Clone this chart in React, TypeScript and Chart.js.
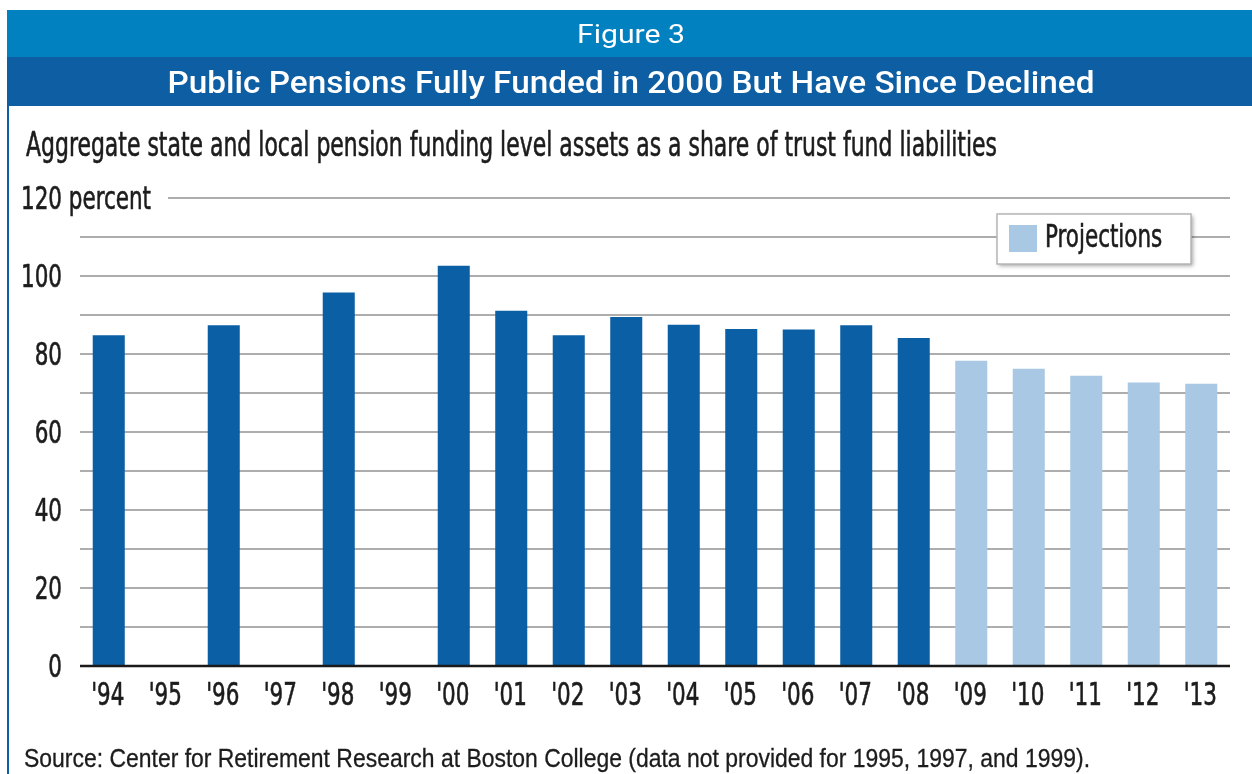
import React, { useEffect, useRef } from "react";
import { Chart, registerables } from "chart.js";

Chart.register(...registerables);

// ---------- data ----------
const categories = ["'94", "'95", "'96", "'97", "'98", "'99", "'00", "'01", "'02", "'03", "'04", "'05", "'06", "'07", "'08", "'09", "'10", "'11", "'12", "'13"];
const actualValues: (number | null)[] = [84.8, null, 87.4, null, 95.8, null, 102.6, 91.1, 84.8, 89.5, 87.5, 86.4, 86.3, 87.4, 84.1, null, null, null, null, null];
const projectionValues: (number | null)[] = [null, null, null, null, null, null, null, null, null, null, null, null, null, null, null, 78.3, 76.2, 74.4, 72.7, 72.4];
const yTickValues = [0, 20, 40, 60, 80, 100, 120];
const yTickLabels = ["0", "20", "40", "60", "80", "100", "120 percent"];

const figureLabel = "Figure 3";
const titleText = "Public Pensions Fully Funded in 2000 But Have Since Declined";
const subtitleText = "Aggregate state and local pension funding level assets as a share of trust fund liabilities";
const sourceText = "Source: Center for Retirement Research at Boston College (data not provided for 1995, 1997, and 1999).";
const actualLabel = "Actual";
const legendLabel = "Projections";

// ---------- styles ----------
const COND = '"Liberation Sans Narrow", "DejaVu Sans Condensed", "Arial Narrow", sans-serif';
const SANS = '"Liberation Sans", Arial, sans-serif';
const COND_FONT = `32px ${COND}`;
const DARK_BAR = "#0b5fa5";
const LIGHT_BAR = "#a8c8e3";
const TOP_BAR = "#0281c0";
const TITLE_BAR = "#0d5ea2";
const GRID = "#adadad";
const TEXT = "#1c1c1c";

function fitText(ctx: CanvasRenderingContext2D, text: string, x: number, y: number, font: string, color: string, width: number, align: "left" | "center", heavy = 0) {
  ctx.save();
  ctx.font = font;
  ctx.fillStyle = color;
  ctx.strokeStyle = color;
  ctx.textBaseline = "alphabetic";
  ctx.textAlign = "left";
  const w = ctx.measureText(text).width;
  const s = width / w;
  const left = align === "center" ? x - width / 2 : x;
  ctx.translate(left, y);
  ctx.scale(s, 1);
  ctx.fillText(text, 0, 0);
  if (heavy > 0) {
    ctx.lineWidth = heavy;
    ctx.strokeText(text, 0, 0);
  }
  ctx.restore();
}

// horizontal squeeze so the fallback condensed font matches the narrow original
function condFactor(ctx: CanvasRenderingContext2D) {
  ctx.save();
  ctx.font = COND_FONT;
  const w = ctx.measureText("120 percent").width;
  ctx.restore();
  return 130 / w;
}

function condText(ctx: CanvasRenderingContext2D, text: string, x: number, y: number, align: "left" | "right" | "center", f: number) {
  ctx.save();
  ctx.font = COND_FONT;
  ctx.fillStyle = TEXT;
  ctx.strokeStyle = TEXT;
  ctx.lineWidth = 0.6;
  ctx.textBaseline = "alphabetic";
  ctx.textAlign = "left";
  const w = ctx.measureText(text).width * f;
  const left = align === "left" ? x : align === "right" ? x - w : x - w / 2;
  ctx.translate(left, y);
  ctx.scale(f, 1);
  ctx.fillText(text, 0, 0);
  ctx.strokeText(text, 0, 0);
  ctx.restore();
  return w;
}

const decorPlugin = {
  id: "decor",
  beforeDraw(chart: any) {
    const ctx: CanvasRenderingContext2D = chart.ctx;
    const W = chart.width;
    const H = chart.height;
    ctx.save();
    ctx.fillStyle = "#ffffff";
    ctx.fillRect(0, 0, W, H);
    ctx.fillStyle = TOP_BAR;
    ctx.fillRect(7, 10, W - 7, 47);
    ctx.fillStyle = TITLE_BAR;
    ctx.fillRect(7, 57, W - 7, 49);
    ctx.fillRect(7, 106, 2, H - 106);
    ctx.restore();
    fitText(ctx, figureLabel, 631, 43, `400 25px Roboto, ${SANS}`, "#ffffff", 108, "center");
    fitText(ctx, titleText, 631, 93, `500 32px Roboto, ${SANS}`, "#ffffff", 927, "center");
    fitText(ctx, subtitleText, 26, 156, `33px ${COND}`, TEXT, 971, "left", 0.6);
    fitText(ctx, sourceText, 24, 767, `26px ${SANS}`, TEXT, 1066, "left", 0.3);
  },
  beforeDatasetsDraw(chart: any) {
    const ctx: CanvasRenderingContext2D = chart.ctx;
    const ys = chart.scales.y;
    const area = chart.chartArea;
    const f = condFactor(ctx);
    ctx.save();
    ctx.font = COND_FONT;
    const topIdx = yTickValues.length - 1;
    const numW = ctx.measureText(String(yTickValues[topIdx])).width * f;
    const fullW = ctx.measureText(yTickLabels[topIdx]).width * f;
    const startX = 62 - numW + fullW + 17;
    const py = Math.round(ys.getPixelForValue(yTickValues[topIdx]));
    ctx.strokeStyle = GRID;
    ctx.lineWidth = 2;
    ctx.beginPath();
    ctx.moveTo(startX, py);
    ctx.lineTo(area.right, py);
    ctx.stroke();
    ctx.restore();
  },
  afterDatasetsDraw(chart: any) {
    const ctx: CanvasRenderingContext2D = chart.ctx;
    const ys = chart.scales.y;
    const xs = chart.scales.x;
    const area = chart.chartArea;
    const f = condFactor(ctx);
    ctx.save();
    // baseline
    const by = ys.getPixelForValue(0);
    ctx.strokeStyle = "#1a1a1a";
    ctx.lineWidth = 2.5;
    ctx.beginPath();
    ctx.moveTo(area.left, by);
    ctx.lineTo(area.right, by);
    ctx.stroke();
    ctx.restore();
    // y labels
    ctx.save();
    ctx.font = COND_FONT;
    yTickValues.forEach((v, i) => {
      const py = ys.getPixelForValue(v) + 11;
      const lbl = yTickLabels[i];
      if (lbl !== String(v)) {
        const numW = ctx.measureText(String(v)).width * f;
        condText(ctx, lbl, 62 - numW, py, "left", f);
      } else {
        condText(ctx, lbl, 62, py, "right", f);
      }
    });
    ctx.restore();
    // x labels
    (chart.data.labels as string[]).forEach((lbl, i) => {
      const px = xs.getPixelForValue(i);
      condText(ctx, lbl, px - 1, area.bottom + 39, "center", f);
    });
    // legend box
    const ds = chart.data.datasets[1];
    const lx = 997, ly = 214, lw = 194, lh = 50;
    ctx.save();
    ctx.shadowColor = "rgba(0,0,0,0.35)";
    ctx.shadowBlur = 4;
    ctx.shadowOffsetX = 2;
    ctx.shadowOffsetY = 2;
    ctx.fillStyle = "#ffffff";
    ctx.fillRect(lx, ly, lw, lh);
    ctx.restore();
    ctx.save();
    ctx.strokeStyle = "#b5b5b5";
    ctx.lineWidth = 1.5;
    ctx.strokeRect(lx, ly, lw, lh);
    ctx.fillStyle = ds.backgroundColor;
    ctx.fillRect(lx + 12, ly + 11, 28, 27);
    ctx.restore();
    condText(ctx, ds.label, lx + 48, ly + 33, "left", f);
  },
};

export default function App() {
  const ref = useRef<HTMLCanvasElement | null>(null);
  useEffect(() => {
    if (!ref.current) return;
    const chart = new Chart(ref.current, {
      type: "bar",
      data: {
        labels: categories,
        datasets: [
          { label: actualLabel, data: actualValues, backgroundColor: DARK_BAR, barPercentage: 0.557, categoryPercentage: 1 },
          { label: legendLabel, data: projectionValues, backgroundColor: LIGHT_BAR, barPercentage: 0.557, categoryPercentage: 1 },
        ],
      },
      options: {
        responsive: false,
        animation: false,
        devicePixelRatio: 1,
        layout: { padding: { top: 198, left: 80, right: 22, bottom: 68 } },
        plugins: { legend: { display: false }, tooltip: { enabled: false }, title: { display: false } },
        scales: {
          x: {
            stacked: true,
            grid: { display: false, drawTicks: false },
            border: { display: false },
            ticks: { display: false, autoSkip: false },
            afterFit: (s: any) => { s.height = 40; },
          },
          y: {
            stacked: true,
            min: 0,
            max: 120,
            ticks: { stepSize: 10, display: false },
            grid: {
              drawTicks: false,
              lineWidth: 2,
              color: (c: any) => (c.tick && (c.tick.value === 0 || c.tick.value === 120) ? "rgba(0,0,0,0)" : GRID),
            },
            border: { display: false },
            afterFit: (s: any) => { s.width = 0; },
          },
        },
      },
      plugins: [decorPlugin],
    });
    return () => chart.destroy();
  }, []);
  return (
    <div style={{ position: "absolute", left: 0, top: 0, width: 1252, height: 774 }}>
      <canvas ref={ref} width={1252} height={774} style={{ display: "block" }} />
    </div>
  );
}
